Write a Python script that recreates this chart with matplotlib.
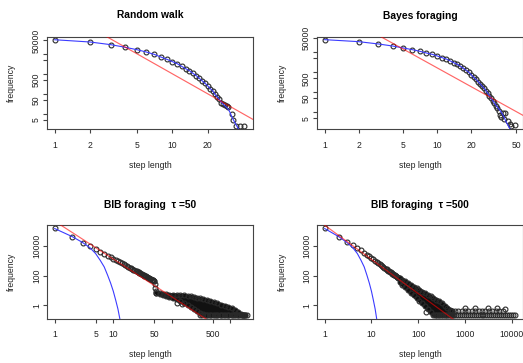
import matplotlib
matplotlib.use("Agg")
import matplotlib.pyplot as plt
from matplotlib.ticker import FixedLocator, FixedFormatter, NullLocator

plt.rcParams['font.family'] = ['Liberation Sans', 'DejaVu Sans']

PT = '#2a2a2a'
FILL = '#111111'
BOX = '#444444'
BLUE = '#3b3bff'
RED = '#ff0000'

# ---- Random walk
rw_step = list(range(1, 31)) + [32, 33, 35, 38, 41]
rw_freq = [54000, 41500, 30500, 22400, 17100, 13100, 10000, 7300, 5600, 4300,
           3400, 2500, 1900, 1500, 1100, 850, 620, 460, 350, 260,
           190, 150, 97, 74, 57, 37, 31, 28, 25, 22,
           9.6, 5, 2.5, 2.5, 2.5]
rw_fit_step = list(range(1, 39))
rw_fit_freq = [54000, 41500, 30500, 22400, 17100, 13100, 10000, 7300, 5600, 4300,
               3400, 2500, 1900, 1500, 1100, 850, 620, 460, 350, 260,
               190, 150, 100, 76, 56, 41, 32, 26, 21, 17,
               12, 7.5, 5.3, 3.8, 2.8, 2.1, 1.6, 1.3]
rw_pl_step = [2.5, 60]
rw_pl_freq = [108000, 2.65]

# ---- Bayes foraging
bf_step = list(range(1, 41)) + [42, 44, 45, 49]
bf_freq = [42800, 34000, 26000, 20600, 16400, 13500, 11200, 9200, 7900, 6500,
           5400, 4600, 3700, 3000, 2500, 2000, 1580, 1250, 1000, 730,
           560, 445, 340, 260, 200, 158, 121, 89, 68, 50,
           38, 29, 21, 16, 12, 7.3, 5.6, 9.5, 4.4, 8.9,
           3.8, 2.7, 2.1, 2.3]
bf_fit_step = list(range(1, 46))
bf_fit_freq = [42800, 34000, 26000, 20600, 16400, 13500, 11200, 9200, 7900, 6500,
               5400, 4600, 3700, 3000, 2500, 2000, 1580, 1250, 1000, 730,
               560, 445, 340, 260, 200, 158, 121, 89, 68, 50,
               38, 29, 23, 18.5, 15, 12.2, 9.9, 7.6, 5.7, 4.2,
               3.1, 2.4, 1.9, 1.5, 1.2]
bf_pl_step = [3, 70]
bf_pl_freq = [70000, 3.8]

# ---- BIB foraging tau = 50
b50_step = list(range(1, 51)) + [51, 52, 53]
b50_freq = [170000, 40000, 18000, 10500, 7000, 4400, 3100, 2300, 1800, 1450,
            1180, 980, 820, 700, 600, 525, 460, 405, 360, 325,
            293, 265, 240, 220, 202, 185, 170, 157, 146, 135,
            126, 117, 110, 103, 97, 91, 86, 81, 76, 72,
            68, 65, 62, 59, 56, 53, 51, 49, 47, 45,
            30, 15, 9]
b50_band_step = [54, 62, 70, 80, 90, 105, 120, 140, 160, 185, 210, 240, 270, 300,
                 340, 390, 450, 520, 600, 690, 800, 920, 1050, 1200, 1350, 1500,
                 1650, 1800]
b50_band_up = [7.3, 6.4, 6.0, 5.6, 5.3, 5.2, 5.0, 4.9, 4.8, 4.3, 4.0, 3.6, 3.2, 2.9,
               2.7, 2.3, 2.0, 1.6, 1.33, 1.12, 0.95, 0.77, 0.63, 0.49, 0.35, 0.24,
               0.22, 0.22]
b50_band_low = [7.3, 6.0, 5.0, 4.2, 3.6, 3.0, 2.5, 1.9, 1.5, 1.1, 0.8, 0.55, 0.4, 0.3,
                0.24, 0.22, 0.22, 0.22, 0.22, 0.22, 0.22, 0.22, 0.22, 0.22, 0.22, 0.22,
                0.22, 0.22]
b50_floor_step = [300, 330, 365, 400, 440, 485, 535, 590, 650, 715, 790, 870, 960,
                  1060, 1170, 1290, 1420, 1560, 1720, 1880]
b50_floor_freq = [0.22] * len(b50_floor_step)
b50_out_step = [121, 147]
b50_out_freq = [1.37, 1.2]
b50_exp_step = [1, 2, 3, 4, 5, 6, 7, 8, 9, 10, 11, 12, 13]
b50_exp_freq = [160000, 45000, 18000, 8000, 3200, 1100, 400, 110, 32, 9, 2.2, 0.56, 0.11]
b50_pl_step = [1, 600]
b50_pl_freq = [508000, 0.037]

# ---- BIB foraging tau = 500
b500_step = list(range(1, 41))
b500_freq = [170000, 43000, 19500, 11700, 7600, 5200, 3700, 2700, 2050, 1600,
             1280, 1050, 870, 730, 620, 530, 460, 400, 350, 310,
             280, 250, 227, 205, 187, 170, 156, 143, 132, 122,
             113, 105, 98, 92, 86, 80, 75, 71, 67, 63]
b500_band_step = [40, 46, 53, 61, 70, 80, 92, 106, 122, 140, 160, 185, 212, 245,
                  280, 320, 370, 420, 480, 540]
b500_band_up = [73, 55, 42, 31.5, 24, 18.4, 14.3, 11, 8.5, 6.6, 5.2, 4.0, 3.1, 2.44,
                1.87, 1.37, 0.94, 0.69, 0.5, 0.44]
b500_band_low = [36.6, 24.7, 16.6, 10.9, 7.2, 4.8, 3.2, 2.1, 1.38, 0.89, 0.58, 0.37,
                 0.22, 0.22, 0.22, 0.22, 0.22, 0.22, 0.22, 0.22]
b500_floor_step = [230, 253, 278, 306, 337, 370, 407, 448, 493, 542, 596, 656, 721,
                   794, 873, 960, 1056, 1162, 1278, 1406, 1546, 1701, 1871, 2058,
                   2264, 2490, 2739, 3013, 3314, 3646, 4011, 4412, 4853, 5338, 5872,
                   6459, 7105, 7816, 8597, 9457, 10400, 11800]
b500_floor_freq = [0.22] * len(b500_floor_step)
b500_row2_step = [520, 610, 720, 850, 1000, 1180, 1400, 1650, 1950, 2300, 2700, 3200,
                  3800, 4500, 5400, 6600]
b500_row2_freq = [0.44] * len(b500_row2_step)
b500_out_step = [150, 1000, 1640, 3100, 4800, 7200]
b500_out_freq = [0.37, 0.69, 0.69, 0.69, 0.69, 0.55]
b500_exp_step = [1, 2, 3, 4, 5, 6, 7, 8, 9, 10, 11, 12, 13]
b500_exp_freq = [160000, 45000, 18000, 8000, 3200, 1100, 400, 110, 32, 9, 2.2, 0.56, 0.11]
b500_pl_step = [1, 800]
b500_pl_freq = [270000, 0.05]

W, H = 523, 363
fig = plt.figure(figsize=(W / 100, H / 100), dpi=100)
fig.patch.set_facecolor('white')


def make_axes(x0, x1, y0, y1):
    return fig.add_axes([x0 / W, 1 - y1 / H, (x1 - x0) / W, (y1 - y0) / H])


def dots(ax, x, y):
    ax.plot(x, y, ls='none', marker='o', ms=3.5, mfc='none', mec=PT, mew=0.8,
            zorder=2)


def band(ax, x, lo, hi):
    # dense cloud of overlapping circles: solid between the outer circle centres
    ax.fill_between(x, lo, hi, facecolor=FILL, edgecolor=FILL, lw=3.0,
                    joinstyle='round', zorder=2)
    dots(ax, x, hi)
    dots(ax, x, lo)


def fits(ax, ex, ey, px, py):
    ax.plot(ex, ey, color=BLUE, lw=0.8, zorder=3)
    ax.plot(px, py, color=RED, lw=0.85, alpha=0.6, zorder=4)


def setup(ax, xlim, ylim, xt, xl, yt, yl, title, title_y, xlab_y, ylab_x):
    ax.set_xscale('log')
    ax.set_yscale('log')
    ax.set_xlim(xlim)
    ax.set_ylim(ylim)
    ax.xaxis.set_major_locator(FixedLocator(xt))
    ax.xaxis.set_major_formatter(FixedFormatter(xl))
    ax.xaxis.set_minor_locator(NullLocator())
    ax.yaxis.set_major_locator(FixedLocator(yt))
    ax.yaxis.set_major_formatter(FixedFormatter(yl))
    ax.yaxis.set_minor_locator(NullLocator())
    for s in ax.spines.values():
        s.set_color(BOX)
        s.set_linewidth(0.8)
    ax.tick_params(axis='both', direction='out', length=2.9, width=0.8, color=BOX,
                   labelsize=6.2, labelcolor='#222222')
    ax.tick_params(axis='x', pad=5.5)
    ax.tick_params(axis='y', pad=1.6, labelrotation=90)
    for lab in ax.get_yticklabels():
        lab.set_va('center')
    ax.set_title(title, fontsize=7.4, fontweight='bold', y=title_y, va='center', pad=0)
    ax.set_xlabel('step length', fontsize=6.2, color='#222222')
    ax.xaxis.set_label_coords(0.5, xlab_y)
    ax.xaxis.label.set_va('center')
    ax.set_ylabel('frequency', fontsize=6.2, color='#222222')
    ax.yaxis.set_label_coords(ylab_x, 0.5)
    ax.yaxis.label.set_va('center')


y_top = [5, 10, 50, 100, 500, 1000, 5000, 10000, 50000]
y_top_lab = ['5', '', '50', '', '500', '', '', '', '50000']

# Random walk
ax1 = make_axes(47.3, 252.7, 36.7, 129.3)
dots(ax1, rw_step, rw_freq)
fits(ax1, rw_fit_step, rw_fit_freq, rw_pl_step, rw_pl_freq)
setup(ax1, (0.865, 48.3), (1.71, 76700), [1, 2, 5, 10, 20], ['1', '2', '5', '10', '20'],
      y_top, y_top_lab, 'Random walk', 1.234, -0.393, -0.177)

# Bayes foraging
ax2 = make_axes(317.3, 522.5, 36.7, 129.3)
dots(ax2, bf_step, bf_freq)
fits(ax2, bf_fit_step, bf_fit_freq, bf_pl_step, bf_pl_freq)
setup(ax2, (0.861, 56.9), (1.41, 60100), [1, 2, 5, 10, 20, 50],
      ['1', '2', '5', '10', '20', '50'],
      y_top, y_top_lab, 'Bayes foraging', 1.225, -0.393, -0.172)

# BIB foraging tau = 50
ax3 = make_axes(47.3, 253.3, 225.2, 318.5)
dots(ax3, b50_step, b50_freq)
band(ax3, b50_band_step, b50_band_low, b50_band_up)
dots(ax3, b50_floor_step, b50_floor_freq)
dots(ax3, b50_out_step, b50_out_freq)
fits(ax3, b50_exp_step, b50_exp_freq, b50_pl_step, b50_pl_freq)
setup(ax3, (0.748, 2450), (0.127, 270000), [1, 5, 10, 50, 100, 500, 1000],
      ['1', '5', '10', '50', '', '500', ''], [1, 100, 10000], ['1', '100', '10000'],
      'BIB foraging  \u03c4 =50', 1.217, -0.384, -0.173)

# BIB foraging tau = 500
ax4 = make_axes(317.3, 522.5, 225.2, 318.5)
dots(ax4, b500_step, b500_freq)
band(ax4, b500_band_step, b500_band_low, b500_band_up)
dots(ax4, b500_floor_step, b500_floor_freq)
dots(ax4, b500_row2_step, b500_row2_freq)
dots(ax4, b500_out_step, b500_out_freq)
fits(ax4, b500_exp_step, b500_exp_freq, b500_pl_step, b500_pl_freq)
setup(ax4, (0.695, 17000), (0.127, 270000), [1, 10, 100, 1000, 10000],
      ['1', '10', '100', '1000', '10000'], [1, 100, 10000], ['1', '100', '10000'],
      'BIB foraging  \u03c4 =500', 1.217, -0.384, -0.172)

fig.savefig('out.png', dpi=100, facecolor='white')
